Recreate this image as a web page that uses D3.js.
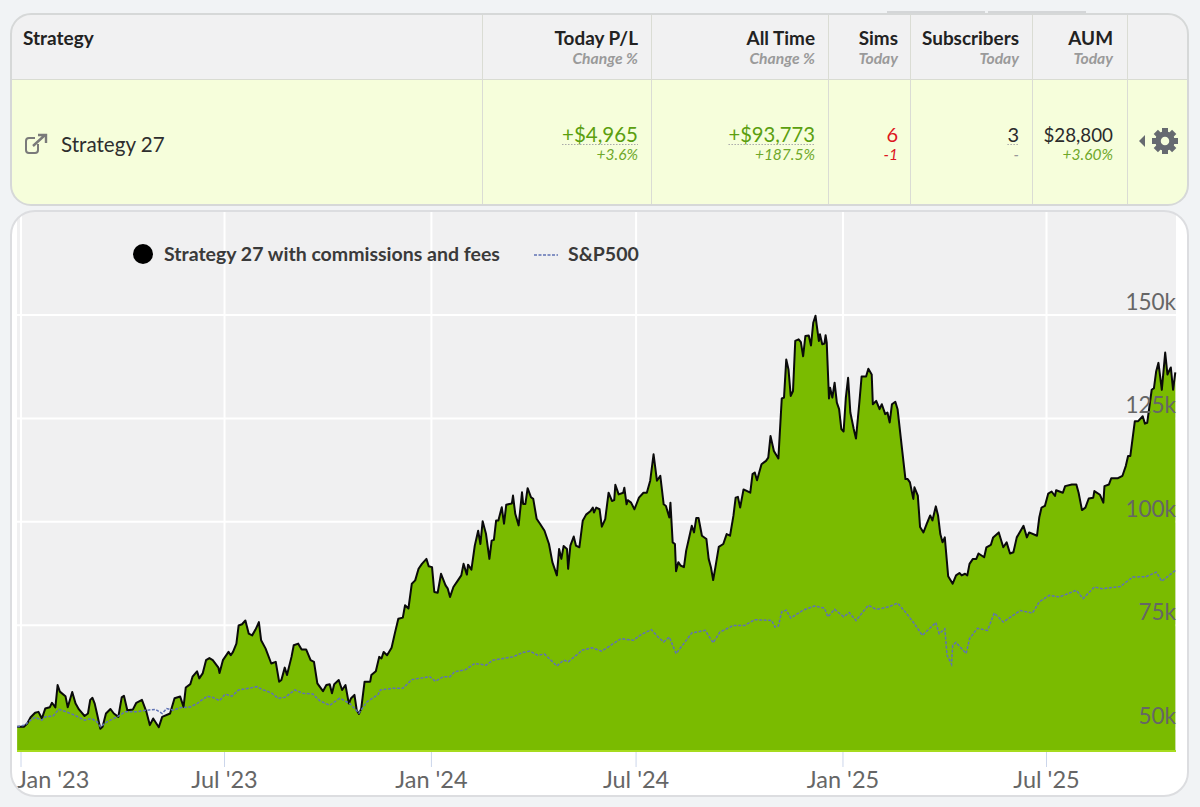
<!DOCTYPE html>
<html>
<head>
<meta charset="utf-8">
<script src="https://cdn.jsdelivr.net/npm/d3@7"></script>
<style>
  html, body { margin: 0; padding: 0; background: #f1f3f5; }
  svg { display: block; font-family: Lato, "Open Sans", sans-serif; }
</style>
</head>
<body>
<div id="chart"></div>
<script>
var svgWidth = 1200;
var svgHeight = 807;

// table content
var columnNames = ["Today P/L", "All Time", "Sims", "Subscribers", "AUM"];
var columnSubs = ["Change %", "Change %", "Today", "Today", "Today"];
var rowValues = ["+$4,965", "+$93,773", "6", "3", "$28,800"];
var rowChanges = ["+3.6%", "+187.5%", "-1", "-", "+3.60%"];
var strategyName = "Strategy 27";

// chart series, days counted from 1 Jan 2023, values in $k
var strategyDays = [-3,3,6,9,13,16,19,22,26,28,31,33,35,40,42,46,49,52,57,60,62,64,66,68,71,73,76,80,83,87,90,92,95,100,103,108,112,115,118,123,126,133,137,142,145,147,151,153,157,159,162,165,168,171,176,177,180,185,187,189,192,194,197,200,203,206,209,212,214,218,223,227,230,232,235,237,241,243,247,250,254,258,261,264,269,272,275,277,279,283,286,289,292,294,297,299,301,303,306,311,312,316,319,321,323,326,330,333,336,340,342,345,348,351,354,357,361,363,366,368,371,374,378,380,382,385,389,392,394,397,398,401,404,407,409,411,414,417,419,421,423,425,428,430,432,437,438,440,443,446,447,449,451,454,456,459,462,466,470,473,477,479,481,483,486,487,489,492,494,497,500,503,507,509,510,512,515,517,520,523,526,528,529,532,536,537,539,540,543,546,550,554,557,560,563,566,569,572,574,577,578,580,582,583,585,587,590,592,595,597,599,601,603,606,610,612,614,616,618,621,625,628,631,634,636,638,640,643,649,651,653,655,659,663,665,667,670,674,677,679,681,683,685,687,689,692,694,696,698,701,703,705,707,708,710,711,713,715,716,717,719,720,722,724,726,728,730,732,734,736,738,741,743,746,748,752,754,757,758,761,764,766,769,771,773,775,778,780,784,787,789,791,794,795,798,800,803,806,809,811,814,816,818,820,822,825,829,832,835,837,840,842,844,847,850,852,857,859,863,865,870,874,877,880,883,886,892,895,897,904,906,908,911,914,917,920,921,927,929,935,939,941,944,947,950,954,955,960,963,964,968,970,976,980,983,985,987,991,994,998,1000,1002,1006,1008,1010,1012,1015,1018,1020,1023,1025,1027];
var strategyValues = [50.3,50.3,51.1,52.6,53.7,53.9,52.3,54.7,55.0,56.1,55.0,60.4,58.8,57.7,55.0,58.7,55.9,54.5,52.9,53.5,56.8,57.3,55.9,53.5,49.8,50.3,53.5,54.6,53.5,52.7,57.4,57.8,54.3,54.5,56.1,56.8,53.9,50.7,52.3,50.2,52.7,53.5,57.2,57.6,55.1,59.8,60.6,62.4,63.7,62.0,63.2,66.4,66.9,66.4,64.6,63.3,66.4,68.4,67.6,68.4,70.4,74.8,75.1,76.0,72.8,72.4,73.8,75.6,71.2,69.2,65.6,66.0,61.2,61.6,64.6,62.8,67.2,70.0,70.4,69.0,69.0,66.4,66.0,60.8,58.9,60.4,60.6,58.4,60.6,61.6,59.2,60.4,55.9,57.2,58.0,54.3,53.4,54.7,61.2,61.2,62.8,63.7,67.2,66.8,68.4,67.6,69.4,73.0,76.4,76.7,79.7,78.9,84.9,85.7,88.5,89.7,90.9,89.1,88.9,82.9,82.7,87.3,84.5,83.7,81.7,84.1,85.7,86.9,89.7,87.1,89.5,88.3,94.1,97.7,94.5,100.0,96.9,90.9,95.3,95.5,100.2,100.2,103.4,99.4,104.0,104.3,106.2,101.8,99.0,107.0,104.2,104.2,108.0,105.8,105.4,100.6,99.4,97.7,94.5,90.1,86.9,93.3,90.9,94.0,93.3,88.5,94.1,96.3,94.1,93.7,100.1,101.6,102.5,103.3,102.1,103.3,102.9,98.7,100.5,106.9,104.9,105.1,108.8,106.5,106.9,108.1,104.1,105.1,104.5,102.9,105.7,106.9,106.9,109.8,116.2,109.8,111.0,104.1,103.7,100.9,104.5,94.9,94.5,87.9,90.1,89.3,88.9,92.9,96.5,98.9,97.3,100.8,100.8,96.5,95.7,90.9,88.9,85.8,88.9,93.8,94.5,96.9,96.5,101.3,105.7,105.9,103.3,107.7,106.9,111.4,111.8,109.9,113.8,114.6,115.4,120.6,117.0,115.2,129.7,129.9,139.1,136.7,130.3,131.5,143.6,144.0,143.3,139.9,144.8,144.9,142.5,148.0,149.7,147.6,143.6,145.2,142.8,143.0,145.0,143.2,129.7,132.3,129.9,133.5,128.7,127.1,122.3,121.7,129.9,134.7,126.3,122.3,120.0,128.7,135.0,135.0,136.9,135.5,128.3,129.1,127.1,128.3,125.9,126.3,123.9,128.3,128.9,127.1,117.4,110.2,110.2,109.4,105.4,108.2,106.2,98.6,97.3,99.4,101.4,100.2,103.6,101.4,96.9,94.9,96.1,86.7,84.9,86.9,87.5,86.9,87.3,86.9,89.7,90.9,90.9,92.2,91.3,93.7,94.3,96.1,97.3,93.7,94.9,92.2,92.5,96.1,98.9,96.1,97.3,96.5,100.9,103.3,103.7,106.7,107.2,106.1,107.5,106.9,108.5,108.9,108.9,106.9,102.7,103.3,105.5,105.7,107.3,106.4,104.5,108.5,108.9,110.4,110.4,111.0,113.4,115.8,115.8,124.2,124.2,125.4,123.6,123.8,131.8,132.2,136.3,138.3,131.8,140.8,135.5,137.2,131.8,136.0];

var sp500Days = [-3,4,9,13,19,22,29,34,40,48,57,63,68,71,77,86,93,103,112,120,126,130,136,142,151,157,166,171,177,182,188,194,203,210,216,223,229,235,244,251,260,266,275,284,293,301,308,318,320,331,340,348,354,364,369,376,382,386,395,404,414,420,429,438,446,453,460,466,477,483,487,497,499,508,517,526,534,545,552,561,567,572,577,583,591,597,609,616,622,634,644,653,668,671,674,677,681,685,696,706,715,718,724,732,737,743,754,761,767,772,780,788,795,802,809,814,817,822,824,828,829,832,841,844,851,860,866,874,889,900,906,915,924,939,945,955,962,978,989,1001,1010,1015,1027];
var sp500Values = [50.3,50.7,51.9,52.6,51.9,52.7,52.9,54.5,54.0,53.1,51.9,52.3,51.5,50.3,51.5,52.7,53.9,53.9,54.3,54.5,53.5,54.7,54.3,54.9,55.1,55.9,57.7,57.4,56.6,58.2,57.7,59.2,59.6,60.0,59.2,58.5,57.2,57.4,59.2,58.4,58.2,56.6,55.5,57.2,55.9,53.6,56.3,58.1,59.2,59.6,59.6,61.7,62.0,62.4,61.3,62.4,62.4,63.6,64.0,65.6,65.2,66.4,66.8,67.2,68.2,68.6,67.6,67.9,65.0,66.4,66.0,68.2,68.8,69.4,68.6,70.2,71.6,71.2,72.6,73.8,72.0,70.8,72.0,68.0,70.8,73.0,73.6,70.6,73.2,74.8,74.8,76.2,76.0,74.4,74.7,78.1,78.5,76.6,78.5,79.5,79.0,76.9,78.7,76.9,77.9,76.0,79.7,78.7,79.0,79.3,80.2,77.7,75.2,72.4,74.2,75.5,72.8,74.0,67.6,65.4,70.0,70.7,68.0,71.6,74.1,73.6,77.8,75.6,78.4,77.8,80.5,82.1,81.7,83.3,81.3,84.1,83.7,84.2,86.5,86.6,87.7,85.5,88.1];

// axis ticks
var yTicks = [50, 75, 100, 125, 150];
var xTickDays = [0, 181, 365, 547, 731, 912];
var xTickLabels = ["Jan '23", "Jul '23", "Jan '24", "Jul '24", "Jan '25", "Jul '25"];

var green = "#7abb00";
var firstDay = new Date(2023, 0, 1);
var toDate = d => d3.timeDay.offset(firstDay, d);

var svg = d3.select("#chart")
  .append("svg")
  .attr("width", svgWidth)
  .attr("height", svgHeight);

// ---- table card ----
var colEdges = [482, 651, 828, 910, 1032, 1127];
var colRight = [638, 815, 898, 1019, 1113];
var valueColors = ["#5b9f0f", "#5b9f0f", "#dd1620", "#2b2b2b", "#2b2b2b"];
var changeColors = ["#6fa82a", "#6fa82a", "#dd1620", "#999999", "#6fa82a"];
var valueSizes = [20.5, 20.2, 20, 20, 18.8];

var defs = svg.append("defs");
defs.append("clipPath").attr("id", "tableClip")
  .append("rect").attr("x", 11).attr("y", 14).attr("width", 1177).attr("height", 191).attr("rx", 20);
defs.append("clipPath").attr("id", "cardClip")
  .append("rect").attr("x", 11).attr("y", 211).attr("width", 1177).attr("height", 585).attr("rx", 24);

// tabs peeking out behind the table
svg.append("path")
  .attr("d", "M887,12H985M988,12H1086")
  .attr("stroke", "#d4d6d8").attr("stroke-width", 2);

var tableBody = svg.append("g").attr("clip-path", "url(#tableClip)");
tableBody.append("rect").attr("x", 11).attr("y", 14).attr("width", 1177).attr("height", 66).attr("fill", "#f1f1f2");
tableBody.append("rect").attr("x", 11).attr("y", 80).attr("width", 1177).attr("height", 125).attr("fill", "#f6fedb");
tableBody.append("line").attr("x1", 11).attr("x2", 1188).attr("y1", 79.5).attr("y2", 79.5).attr("stroke", "#d9dcd2");
tableBody.selectAll(".sep")
  .data(colEdges)
  .enter()
  .append("line")
  .attr("x1", d => d + 0.5)
  .attr("x2", d => d + 0.5)
  .attr("y1", 14)
  .attr("y2", 205)
  .attr("stroke", "#dadcd4");
svg.append("rect").attr("x", 11).attr("y", 14).attr("width", 1177).attr("height", 191).attr("rx", 20)
  .attr("fill", "none").attr("stroke", "#d6d8d8").attr("stroke-width", 2);

svg.append("text").attr("x", 23).attr("y", 45)
  .attr("font-size", 19).attr("font-weight", 700).attr("fill", "#222").text("Strategy");
svg.append("text").attr("x", 61).attr("y", 152)
  .attr("font-size", 20.6).attr("fill", "#2e2e2e").text(strategyName);

// external link icon
var linkIcon = svg.append("g").attr("fill", "none").attr("stroke", "#7a7a7a").attr("stroke-width", 2);
linkIcon.append("path").attr("d", "M38,144V150Q38,153 35,153H29Q26,153 26,150V141Q26,138 29,138H35");
linkIcon.append("path").attr("d", "M33,146L45,135M38,135H46V143").attr("stroke-width", 2.4);

var headers = svg.append("g").attr("text-anchor", "end");
headers.selectAll(".colName")
  .data(columnNames)
  .enter()
  .append("text")
  .attr("x", (d, i) => colRight[i])
  .attr("y", 45)
  .attr("font-size", 18.9)
  .attr("font-weight", 700)
  .attr("fill", "#222")
  .text(d => d);
headers.selectAll(".colSub")
  .data(columnSubs)
  .enter()
  .append("text")
  .attr("x", (d, i) => colRight[i])
  .attr("y", 64)
  .attr("font-size", 15.7)
  .attr("font-style", "italic")
  .attr("font-weight", 700)
  .attr("fill", "#9a9a9a")
  .text(d => d);

var cells = svg.append("g").attr("text-anchor", "end");
var valueText = cells.selectAll(".val")
  .data(rowValues)
  .enter()
  .append("text")
  .attr("x", (d, i) => colRight[i])
  .attr("y", 142)
  .attr("font-size", (d, i) => valueSizes[i])
  .attr("fill", (d, i) => valueColors[i])
  .text(d => d);
cells.selectAll(".chg")
  .data(rowChanges)
  .enter()
  .append("text")
  .attr("x", (d, i) => colRight[i])
  .attr("y", 160)
  .attr("font-size", 15.5)
  .attr("font-style", "italic")
  .attr("fill", (d, i) => changeColors[i])
  .text(d => d);

// dotted underline under the first, second and fourth values
valueText.each(function(d, i) {
  if (i === 2 || i === 4) return;
  var w = this.getComputedTextLength();
  svg.append("line")
    .attr("x1", colRight[i] - w)
    .attr("x2", colRight[i])
    .attr("y1", 144.5)
    .attr("y2", 144.5)
    .attr("stroke", "#a9a9a9")
    .attr("stroke-width", 1)
    .attr("stroke-dasharray", "1.5,1.5");
});

// little arrow and gear
svg.append("path").attr("d", "M1145,135V147L1139,141Z").attr("fill", "#666a70");
var gear = svg.append("g").attr("transform", "translate(1165,141)").attr("fill", "#666a70");
gear.selectAll("rect")
  .data(d3.range(8))
  .enter()
  .append("rect")
  .attr("x", -3)
  .attr("y", -13)
  .attr("width", 6)
  .attr("height", 7)
  .attr("transform", d => `rotate(${d * 45})`);
gear.append("circle").attr("r", 7).attr("fill", "none").attr("stroke", "#666a70").attr("stroke-width", 5.5);

// ---- chart card ----
svg.append("rect").attr("x", 11).attr("y", 211).attr("width", 1177).attr("height", 585).attr("rx", 24)
  .attr("fill", "#ffffff");

var plotLeft = 17, plotRight = 1176, plotTop = 211, plotBottom = 751;

var xScale = d3.scaleTime()
  .domain([toDate(0), toDate(912)])
  .range([20.5, 1046]);
var yScale = d3.scaleLinear()
  .domain([50, 150])
  .range([728, 314.5]);

var chartGroup = svg.append("g").attr("clip-path", "url(#cardClip)");
chartGroup.append("rect")
  .attr("x", plotLeft).attr("y", plotTop)
  .attr("width", plotRight - plotLeft).attr("height", plotBottom - plotTop)
  .attr("fill", "#f0f0f1");

// gridlines
chartGroup.append("g")
  .attr("transform", `translate(0,${plotBottom})`)
  .call(d3.axisBottom(xScale)
    .tickValues(xTickDays.map(toDate))
    .tickSize(-(plotBottom - plotTop))
    .tickFormat(""))
  .call(g => g.select(".domain").remove())
  .call(g => g.selectAll("line").attr("stroke", "#ffffff").attr("stroke-width", 2));
chartGroup.append("g")
  .attr("transform", `translate(${plotLeft},0)`)
  .call(d3.axisRight(yScale)
    .tickValues(yTicks)
    .tickSize(plotRight - plotLeft)
    .tickFormat(""))
  .call(g => g.select(".domain").remove())
  .call(g => g.selectAll("line").attr("stroke", "#ffffff").attr("stroke-width", 2));

var stratPoints = strategyDays.map((d, i) => [toDate(d), strategyValues[i]]);
var spPoints = sp500Days.map((d, i) => [toDate(d), sp500Values[i]]);

chartGroup.append("path")
  .datum(stratPoints)
  .attr("fill", green)
  .attr("d", d3.area().x(d => xScale(d[0])).y0(plotBottom).y1(d => yScale(d[1])));
chartGroup.append("path")
  .datum(stratPoints)
  .attr("fill", "none")
  .attr("stroke", "#0a0a0a")
  .attr("stroke-width", 2)
  .attr("stroke-linejoin", "round")
  .attr("d", d3.line().x(d => xScale(d[0])).y(d => yScale(d[1])));
chartGroup.append("path")
  .datum(spPoints)
  .attr("fill", "none")
  .attr("stroke", "#5f72b4")
  .attr("stroke-width", 1.5)
  .attr("stroke-dasharray", "3,1.5")
  .attr("d", d3.line().x(d => xScale(d[0])).y(d => yScale(d[1])));

// bright edge under the area
chartGroup.append("line")
  .attr("x1", plotLeft).attr("x2", plotRight)
  .attr("y1", plotBottom).attr("y2", plotBottom)
  .attr("stroke", "#a6dc1e").attr("stroke-width", 2);

// x axis
svg.append("g")
  .attr("transform", `translate(0,${plotBottom + 1})`)
  .call(d3.axisBottom(xScale)
    .tickValues(xTickDays.map(toDate))
    .tickSize(15)
    .tickPadding(0)
    .tickFormat((d, i) => xTickLabels[i]))
  .call(g => g.select(".domain").remove())
  .call(g => g.selectAll("line").attr("stroke", "#ccd6eb"))
  .call(g => g.selectAll("text")
    .attr("y", 36)
    .attr("dy", 0)
    .attr("font-family", "Lato")
    .attr("font-size", 23.5)
    .attr("fill", "#666666"))
  // first label is pushed inside the plot
  .call(g => g.selectAll("text").filter((d, i) => i === 0).attr("text-anchor", "start").attr("x", -4));

// y axis labels
svg.append("g")
  .attr("transform", `translate(${plotRight},0)`)
  .call(d3.axisLeft(yScale)
    .tickValues(yTicks)
    .tickSize(0)
    .tickPadding(0)
    .tickFormat(d => d + "k"))
  .call(g => g.select(".domain").remove())
  .call(g => g.selectAll("text")
    .attr("y", -5)
    .attr("dy", 0)
    .attr("font-family", "Lato")
    .attr("font-size", 22.5)
    .attr("fill", "#666666"));

// legend
var legend = svg.append("g");
legend.append("circle").attr("cx", 143).attr("cy", 254).attr("r", 10).attr("fill", "#000");
legend.append("text").attr("x", 164).attr("y", 261)
  .attr("font-size", 19.5).attr("font-weight", 700).attr("fill", "#3a3a3a")
  .text(strategyName + " with commissions and fees");
legend.append("line").attr("x1", 534).attr("x2", 558).attr("y1", 255).attr("y2", 255)
  .attr("stroke", "#5f72b4").attr("stroke-width", 1.3).attr("stroke-dasharray", "3,1.5");
legend.append("text").attr("x", 568).attr("y", 261)
  .attr("font-size", 19.5).attr("font-weight", 700).attr("fill", "#3a3a3a")
  .text("S&P500");

svg.append("rect").attr("x", 11).attr("y", 211).attr("width", 1177).attr("height", 585).attr("rx", 24)
  .attr("fill", "none").attr("stroke", "#dcdde0").attr("stroke-width", 2);
</script>
</body>
</html>
